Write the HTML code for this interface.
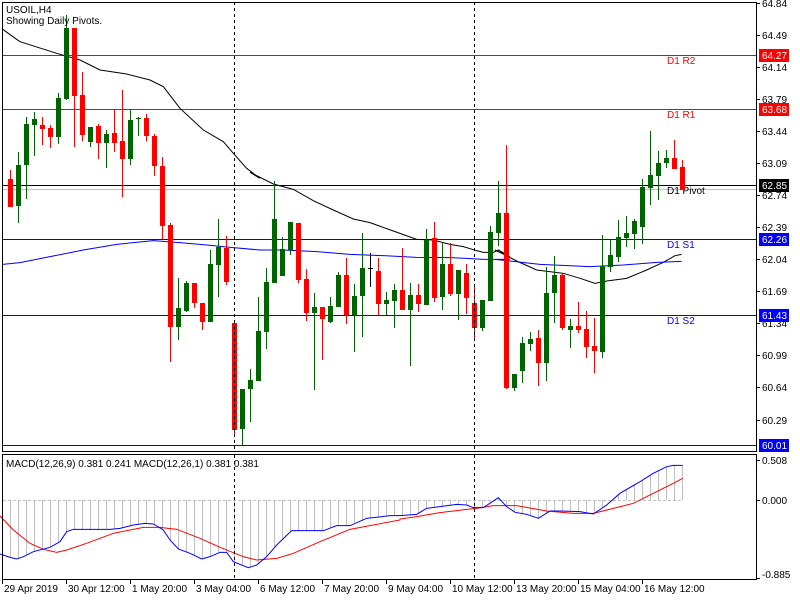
<!DOCTYPE html>
<html><head><meta charset="utf-8"><style>
html,body{margin:0;padding:0;background:#fff;}
svg{display:block;font-family:"Liberation Sans",sans-serif;}
</style></head><body>
<svg id="s" width="800" height="600" xmlns="http://www.w3.org/2000/svg">
<rect width="800" height="600" fill="#fff"/>
</svg>
<script>
const s=document.getElementById('s');let h='';
function L(x1,y1,x2,y2,c,w,d){h+=`<line x1="${x1}" y1="${y1}" x2="${x2}" y2="${y2}" stroke="${c}" stroke-width="${w||1}"${d?` stroke-dasharray="${d}"`:''} shape-rendering="crispEdges"/>`;}
function H(y,c){h+=`<rect x="3" y="${y}" width="753" height="1" fill="${c}"/>`;}
function T(x,y,t,c,a){h+=`<text x="${x}" y="${y}" font-size="10" fill="${c||'#000'}"${a?` text-anchor="${a}"`:''}>${t}</text>`;}
function P(pts,c){let p=pts.map(q=>q[0]+','+q[1]).join(' ');h+=`<polyline points="${p}" fill="none" stroke="${c}" stroke-width="1"/>`;}
const blue4=[[0,312],[30,322],[50,327],[70,320],[100,305],[150,292],[180,275],[200,245],[220,238],[330,238],[360,235],[400,225],[435,220],[460,222],[490,240],[510,270],[535,297],[570,310],[605,327],[630,320],[660,307],[680,307],[700,335],[745,353],[770,345],[800,320],[830,285],[875,242],[970,242],[1010,227],[1050,227],[1100,205],[1170,197],[1200,197]].map(q=>[q[0]/3,450+q[1]/3]);
const blue5=[[0,197],[50,193],[80,175],[120,170],[170,163],[200,165],[220,173],[250,173],[295,143],[320,170],[345,187],[380,193],[415,205],[450,183],[480,183],[540,185],[580,192],[620,165],[660,130],[720,95],[760,70],[800,50],[820,46],[848,46]].map(q=>[400+q[0]/3,450+q[1]/3]);
const blue=blue4.concat(blue5);
function interp(x){for(let i=0;i<blue.length-1;i++){if(x>=blue[i][0]&&x<=blue[i+1][0]){let t=(x-blue[i][0])/(blue[i+1][0]-blue[i][0]||1);return blue[i][1]+t*(blue[i+1][1]-blue[i][1]);}}return 500;}
for(let i=0;i<85;i++){let x=10.5+8*i;L(x,500,x,interp(x),'#c0c0c0',1);}
L(3,500.5,683,500.5,'#c0c0c0',1,'3,2');
const red4=[[0,198],[40,240],[90,280],[130,298],[170,307],[200,300],[260,280],[340,250],[430,232],[480,232],[530,238],[600,265],[660,292],[730,320],[770,330],[830,325],[880,310],[960,275],[1050,238],[1200,210]].map(q=>[q[0]/3,450+q[1]/3]);
const red5=[[0,207],[50,200],[120,188],[200,178],[230,175],[280,167],[350,167],[440,183],[520,190],[580,190],[640,175],[700,160],[760,130],[820,100],[848,85]].map(q=>[400+q[0]/3,450+q[1]/3]);
P(red4.concat(red5),'#ff0000');
P(blue,'#0000ff');
H(55,'#ff0000');H(109,'#ff0000');H(185,'#000000');H(189,'#c0c0c0');
H(239,'#0000ff');H(315,'#0000ff');H(445,'#0000ff');
T(667,64,'D1  R2','#ff0000');T(667,118,'D1  R1','#ff0000');T(667,194,'D1  Pivot','#000');
T(667,248,'D1  S1','#0000ff');T(667,324,'D1  S2','#0000ff');
const ma1=[[8,88],[60,125],[170,160],[240,180],[300,210],[380,222],[450,240],[490,260],[540,325],[610,390],[670,425],[700,460],[740,505],[780,535]].map(q=>[q[0]/3,q[1]/3]);
const ma2=[[0,67],[70,102],[130,118],[190,152],[250,180],[310,207],[360,218],[430,243],[500,268],[550,270],[600,283],[640,290],[680,302],[700,307],[730,307],[745,300],[780,320]].map(q=>[250+q[0]/3,150+q[1]/3]);
const ma3=[[15,450],[40,462],[80,483],[140,510],[220,520],[270,535],[315,550],[350,543],[410,535],[470,510],[520,487],[555,467],[575,463]].map(q=>[490+q[0]/3,100+q[1]/3]);
P(ma1.concat(ma2,ma3),'#000');
const mb1=[[8,793],[60,788],[150,770],[250,750],[350,733],[460,722],[540,728],[620,735],[700,743],[780,750]].map(q=>[q[0]/3,q[1]/3]);
const mb2=[[30,300],[100,300],[200,305],[300,313],[400,317],[500,322],[600,323],[650,325],[700,328],[780,328]].map(q=>[250+q[0]/3,150+q[1]/3]);
const mb3=[[15,478],[60,483],[150,493],[300,500],[400,495],[500,487],[575,484]].map(q=>[490+q[0]/3,100+q[1]/3]);
P(mb1.concat(mb2,mb3),'#0000ff');
const C=`r 179 207 170 207|g 165 206 152 223|g 124 165 117 199|g 119 125 112 156|r 125 129 117 145|r 128 137 125 148|g 98 137 93 144|g 28 99 15 100|r 28 96 28 147|r 95 135 72 141|g 127 142 127 147|r 126 143 124 159|g 134 143 130 168|r 133 143 110 152|r 141 159 90 197|g 120 159 110 165|g 118 119 117 136|r 118 136 114 141|r 136 166 134 176|r 166 226 157 239|r 225 327 223 362|g 308 327 278 340|g 283 311 281 312|r 283 303 283 308|r 303 322 303 330|g 264 322 250 322|g 247 265 219 297|r 248 282 236 285|r 323 430 323 435|g 389 429 389 445|g 380 389 369 422|g 331 381 297 381|g 282 332 268 349|g 219 283 181 283|g 249 276 237 276|g 222 250 222 255|r 223 280 223 283|r 279 313 269 321|g 307 313 293 390|r 307 319 307 360|g 306 322 297 323|g 275 307 272 307|r 275 315 258 324|g 296 315 284 352|g 268 296 233 337|k 268 269 253 287|r 271 304 258 315|g 300 304 292 315|g 290 301 284 328|r 290 310 248 310|g 295 310 283 366|r 295 304 284 312|g 240 305 229 305|r 238 298 222 302|g 264 297 243 310|r 264 294 243 296|g 270 294 270 320|r 273 298 264 314|r 303 328 284 341|g 300 328 300 331|g 232 301 226 301|g 213 233 181 246|r 213 388 145 389|g 374 388 374 391|g 343 371 337 383|g 339 344 332 351|r 338 363 330 386|g 293 363 267 381|g 275 293 256 323|r 275 328 273 330|g 326 330 319 348|r 326 330 302 333|r 329 347 311 358|r 346 351 318 373|g 266 352 235 358|g 255 267 240 272|g 237 257 220 262|g 233 238 216 247|g 221 234 219 249|g 187 227 179 244|g 175 188 131 205|g 163 176 151 200|g 158 163 150 168|r 158 169 140 169|r 167 190 160 190`.split('|');
C.forEach((c,i)=>{let [k,a,b,hi,lo]=c.split(' ');a=+a;b=+b;hi=+hi;lo=+lo;let col=k=='g'?'#006400':k=='r'?'#ff0000':'#000';let x=10.5+8*i;
L(x,hi,x,lo,col,1);
if(k=='k')h+=`<rect x="${x-2.5}" y="${a}" width="5" height="1" fill="#000"/>`;else h+=`<rect x="${x-2.5}" y="${a}" width="5" height="${Math.max(1,b-a)}" fill="${col}" shape-rendering="crispEdges"/>`;});
L(234.5,2,234.5,452,'#000',1,'3,3');L(474.5,2,474.5,452,'#000',1,'3,3');
L(234.5,455,234.5,579,'#000',1,'3,3');L(474.5,455,474.5,579,'#000',1,'3,3');
h+=`<rect x="2.5" y="2.5" width="754" height="449" fill="none" stroke="#000"/>`;
h+=`<rect x="2.5" y="454.5" width="754" height="125" fill="none" stroke="#000"/>`;
[[64.84,3],[64.49,35],[64.14,67],[63.79,99],[63.44,131],[63.09,163],[62.74,195],[62.39,227],[62.04,259],[61.69,291],[61.34,323],[60.99,355],[60.64,387],[60.29,420]].forEach(q=>{L(757,q[1]+.5,760,q[1]+.5,'#000');T(762,q[1]+4,q[0].toFixed(2));});
[[55,'64.27','#ff0000'],[109,'63.68','#ff0000'],[185,'62.85','#000'],[239,'62.26','#0000ff'],[315,'61.43','#0000ff'],[445,'60.01','#0000ff']].forEach(q=>{h+=`<rect x="759" y="${q[0]-6}" width="30" height="13" fill="${q[2]}"/>`;T(762,q[0]+4,q[1],'#fff');});
L(757,460.5,760,460.5,'#000');T(762,464,'0.508');L(757,500.5,760,500.5,'#000');T(762,504,'0.000');L(757,578.5,760,578.5,'#000');T(762,578,'-0.885');
[[2,'29 Apr 2019'],[66,'30 Apr 12:00'],[130,'1 May 20:00'],[194,'3 May 04:00'],[258,'6 May 12:00'],[322,'7 May 20:00'],[386,'9 May 04:00'],[450,'10 May 12:00'],[514,'13 May 20:00'],[578,'15 May 04:00'],[642,'16 May 12:00']].forEach(q=>{L(q[0]+.5,580,q[0]+.5,584,'#000');T(q[0]+2,592,q[1]);});
T(6,13,'USOIL,H4');T(6,24,'Showing Daily Pivots.');
T(6,467,'MACD(12,26,9) 0.381 0.241 MACD(12,26,1) 0.381 0.381');
s.innerHTML+=h;
</script>
</body></html>
